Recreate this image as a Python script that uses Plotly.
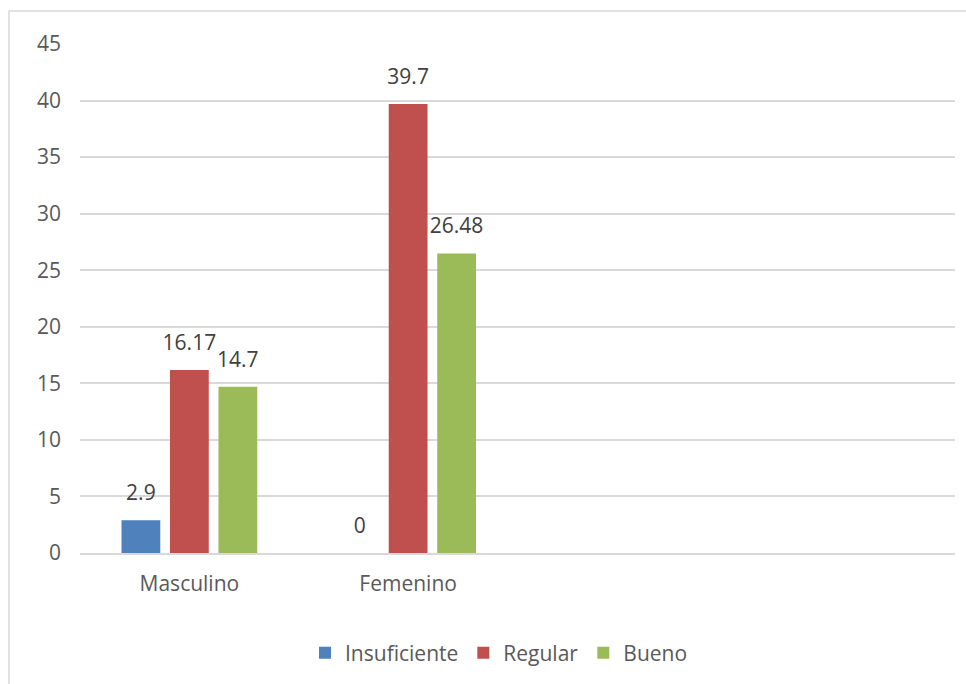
import plotly.graph_objects as go

categories = ["Masculino", "Femenino", " ", "  "]
series_names = ["Insuficiente", "Regular", "Bueno"]
insuficiente = [2.9, 0, None, None]
regular = [16.17, 39.7, None, None]
bueno = [14.7, 26.48, None, None]
colors = ["#4F81BD", "#C0504D", "#9BBB59"]
y_ticks = [0, 5, 10, 15, 20, 25, 30, 35, 40, 45]

FONT = "Open Sans"
FS = 21

def fmt(v):
    return "" if v is None else f"{v:g}"

fig = go.Figure()
for i, (name, vals, col) in enumerate(zip(series_names, [insuficiente, regular, bueno], colors)):
    fig.add_trace(go.Bar(
        name=name, x=categories, y=vals,
        marker=dict(color=col, line=dict(width=0)),
        offsetgroup=str(i),
    ))
for i, (name, vals) in enumerate(zip(series_names, [insuficiente, regular, bueno])):
    fig.add_trace(go.Scatter(
        x=categories, y=vals, mode="text+markers",
        marker=dict(size=22, opacity=0),
        text=[fmt(v) for v in vals],
        textposition="top center",
        textfont=dict(family=FONT, size=FS, color="#404040"),
        offsetgroup=str(i), showlegend=False, hoverinfo="skip",
        cliponaxis=False,
    ))

W, H = 966, 684
L, R, T, B = 80, 11, 44, 131
pw = W - L - R
ph = H - T - B

fig.update_layout(
    width=W, height=H,
    margin=dict(l=L, r=R, t=T, b=B),
    paper_bgcolor="white", plot_bgcolor="white",
    barmode="group", bargap=0.335, bargroupgap=0.2,
    scattermode="group", scattergap=0.335,
    font=dict(family=FONT, size=FS, color="#595959"),
    showlegend=True,
    legend=dict(
        orientation="h", x=(499 - L) / pw, xanchor="center",
        y=(553 - 653) / ph, yanchor="middle",
        font=dict(family=FONT, size=FS, color="#595959"),
        itemwidth=30, traceorder="normal",
    ),
    xaxis=dict(
        type="category", showgrid=False, showline=True,
        linecolor="#d9d9d9", linewidth=1.5, ticks="",
        tickfont=dict(family=FONT, size=FS, color="#595959"),
        ticklabelstandoff=11,
    ),
    yaxis=dict(
        range=[0, 45], tickvals=y_ticks, showgrid=True,
        gridcolor="#d9d9d9", gridwidth=1.5, zeroline=False,
        showline=False, ticks="",
        tickfont=dict(family=FONT, size=FS, color="#595959"),
        ticklabelstandoff=18,
    ),
    shapes=[dict(
        type="rect", xref="paper", yref="paper",
        x0=(9 - L) / pw, x1=1.2, y0=-0.5, y1=1 + (T - 11) / ph,
        line=dict(color="#d9d9d9", width=1.5), fillcolor="rgba(0,0,0,0)",
        layer="below",
    )],
)

fig.write_html("out.html")
